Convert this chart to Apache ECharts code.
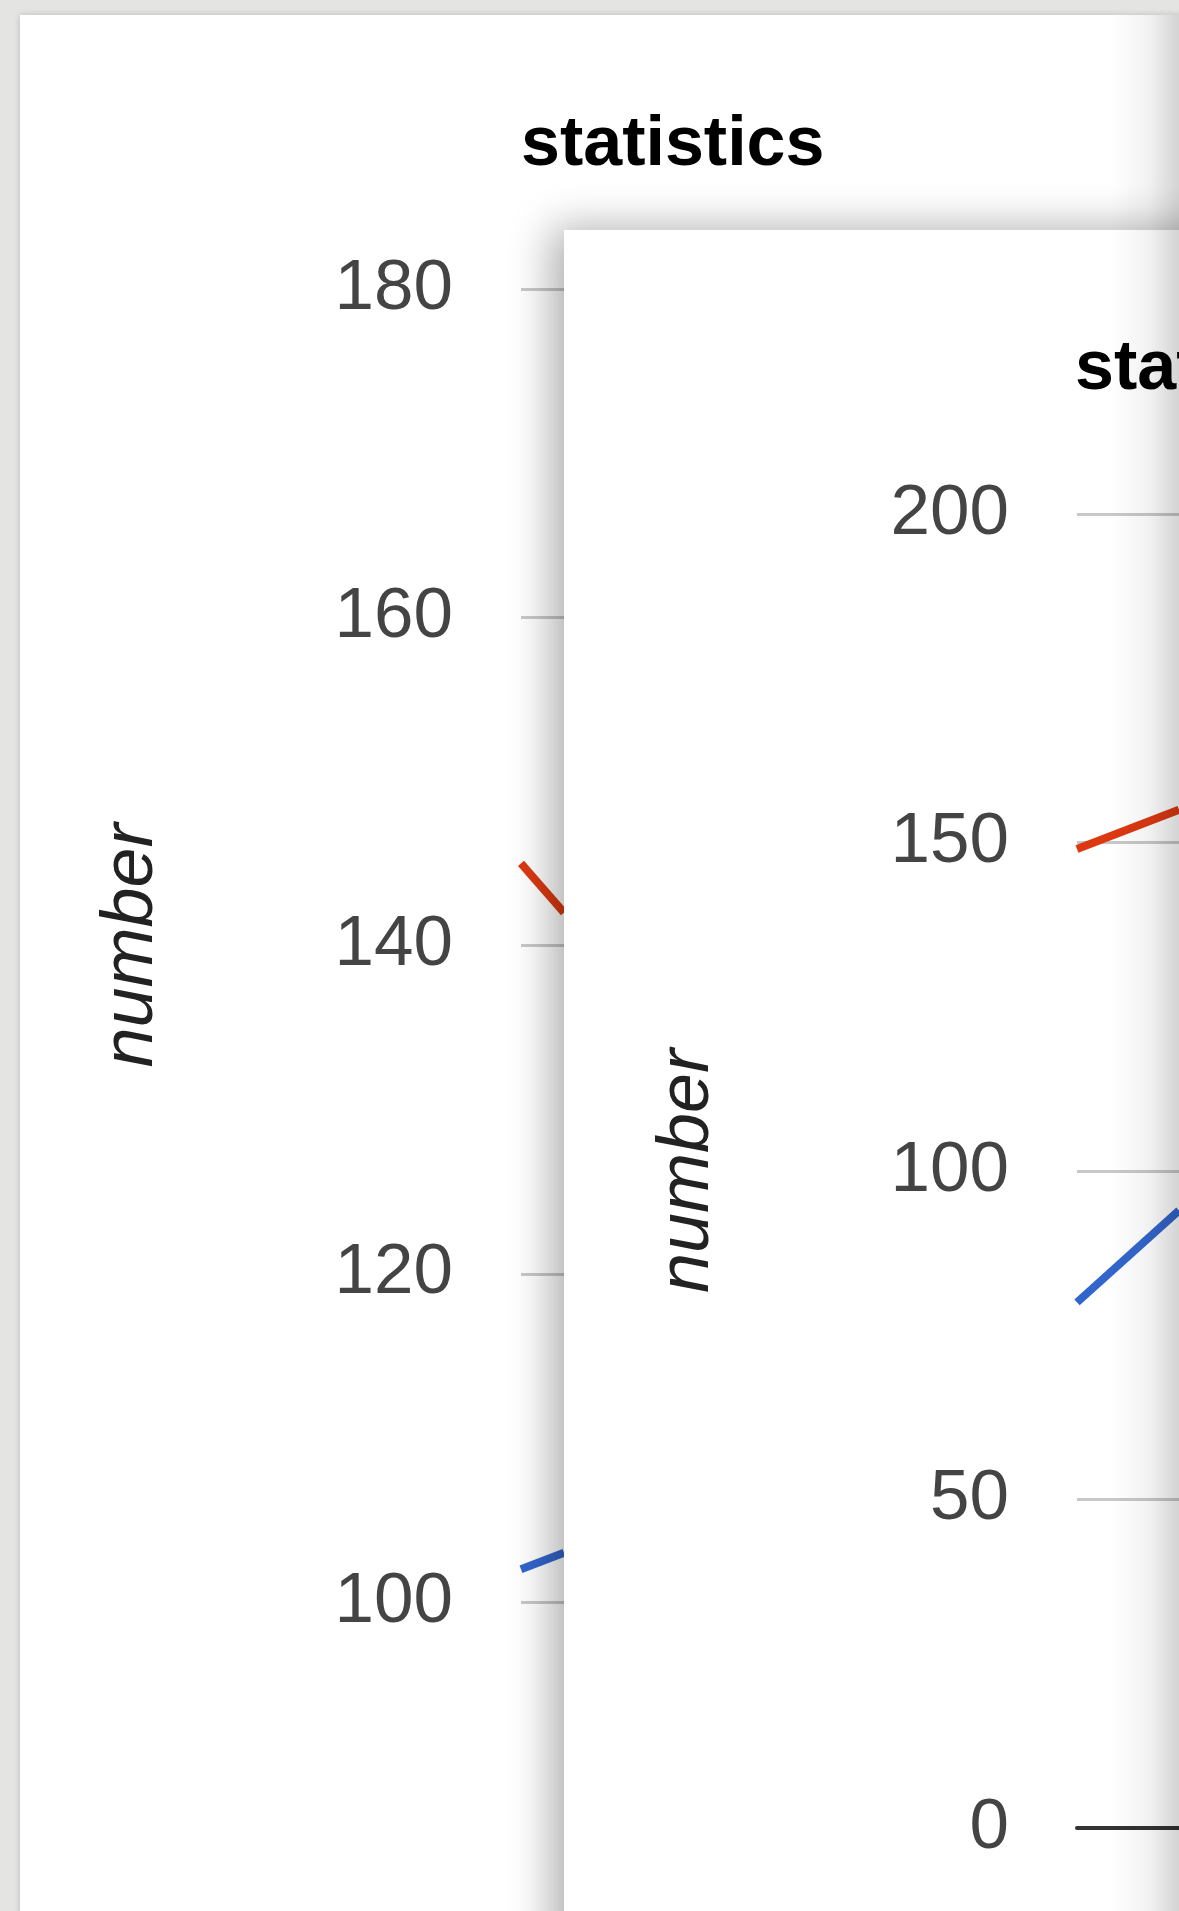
<!DOCTYPE html>
<html>
<head>
<meta charset="utf-8">
<script src="https://cdn.jsdelivr.net/npm/echarts@6/dist/echarts.min.js"></script>
<style>
  html, body { margin: 0; padding: 0; }
  body {
    width: 1179px; height: 1911px; overflow: hidden; position: relative;
    background: #e4e4e2;
  }
  .card { position: absolute; background: #fff; }
  #backCard {
    left: 20px; top: 15px; width: 1400px; height: 2000px;
    box-shadow: 0 0 6px rgba(0,0,0,0.18);
    z-index: 1;
  }
  #frontCard {
    left: 564px; top: 230px; width: 1400px; height: 1800px;
    box-shadow: -10px 0 40px 2px rgba(0,0,0,0.32);
    z-index: 2;
  }
  .chart { width: 100%; height: 100%; }
  #edgeShade {
    position: absolute; left: 1112px; top: 15px; width: 67px; height: 1896px;
    background: linear-gradient(to right, rgba(0,0,0,0) 0%, rgba(0,0,0,0.05) 55%, rgba(0,0,0,0.17) 100%);
    z-index: 3; pointer-events: none;
  }
</style>
</head>
<body>
<div id="backCard" class="card"><div id="backChart" class="chart"></div></div>
<div id="frontCard" class="card"><div id="frontChart" class="chart"></div></div>
<div id="edgeShade"></div>
<script>
// Shared labels
const chartTitle = 'statistics';
const axisTitle = 'number';
const categories = ['1', '2'];
const seriesNames = ['Series A', 'Series B'];

// Back chart values
const backBlue = [102, 103];
const backRed = [145, 142];
const backYTicks = [100, 120, 140, 160, 180];

// Front chart values
const frontBlue = [80, 94];
const frontRed = [149, 155];
const frontYTicks = [0, 50, 100, 150, 200];

const FONT = 'Arial, "Liberation Sans", sans-serif';
const BLUE = '#3366cc';
const RED = '#dc3912';

function buildOption(cfg) {
  const ticks = cfg.ticks;
  return {
    animation: false,
    title: {
      text: chartTitle,
      left: cfg.titleLeft, top: cfg.titleTop,
      padding: 0,
      textStyle: { fontFamily: FONT, fontSize: 70, fontWeight: 'bold', color: '#000' }
    },
    grid: {
      left: cfg.gridLeft, top: cfg.gridTop, width: cfg.gridWidth, height: cfg.gridHeight,
      containLabel: false, outerBoundsMode: 'none'
    },
    xAxis: {
      type: 'category',
      data: categories,
      boundaryGap: false,
      axisLabel: { show: false },
      axisTick: { show: false },
      splitLine: { show: false },
      axisLine: { show: cfg.baseline, lineStyle: { color: '#333', width: 4 } }
    },
    yAxis: {
      type: 'value',
      min: ticks[0], max: ticks[ticks.length - 1],
      interval: ticks[1] - ticks[0],
      name: axisTitle,
      nameLocation: 'middle',
      nameGap: 353,
      nameTextStyle: { fontFamily: FONT, fontSize: 72, fontStyle: 'italic', color: '#222' },
      axisLine: { show: false },
      axisTick: { show: false },
      axisLabel: { fontFamily: FONT, fontSize: 71, color: '#444', margin: 68, padding: [9, 0, 0, 0] },
      splitLine: { show: true, lineStyle: { color: '#c8c8c8', width: 3 } }
    },
    series: [
      { name: seriesNames[0], type: 'line', data: cfg.blue, showSymbol: false,
        lineStyle: { color: BLUE, width: 8 }, itemStyle: { color: BLUE } },
      { name: seriesNames[1], type: 'line', data: cfg.red, showSymbol: false,
        lineStyle: { color: RED, width: 8 }, itemStyle: { color: RED } }
    ]
  };
}

const back = echarts.init(document.getElementById('backChart'), null, { renderer: 'canvas' });
back.setOption(buildOption({
  ticks: backYTicks, blue: backBlue, red: backRed,
  titleLeft: 501, titleTop: 96,
  gridLeft: 501, gridTop: 274, gridWidth: 43, gridHeight: 1313,
  baseline: false
}));

const front = echarts.init(document.getElementById('frontChart'), null, { renderer: 'canvas' });
front.setOption(buildOption({
  ticks: frontYTicks, blue: frontBlue, red: frontRed,
  titleLeft: 511, titleTop: 105,
  gridLeft: 513, gridTop: 284, gridWidth: 102, gridHeight: 1314,
  baseline: true
}));
</script>
</body>
</html>
